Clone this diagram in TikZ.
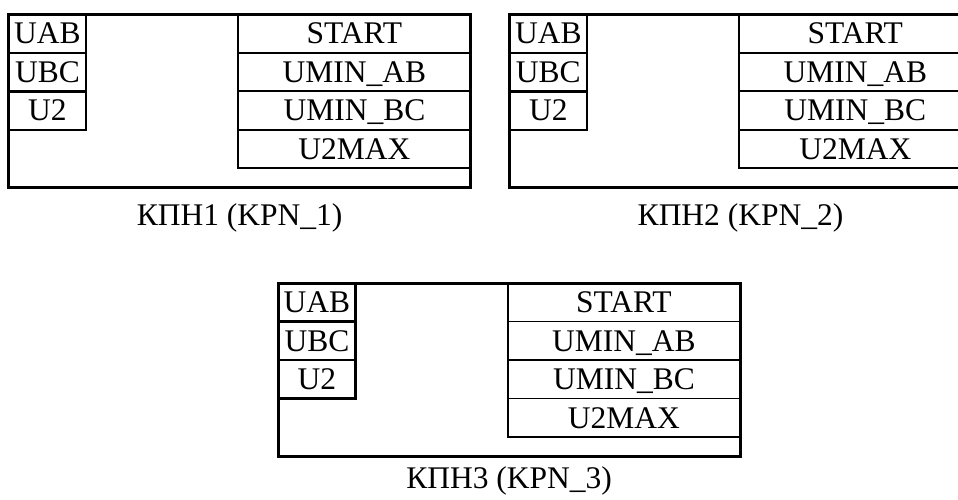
\documentclass[tikz,border=0pt]{standalone}
\usepackage{fontspec}
\setmainfont{Liberation Serif}
\tikzset{
  every node/.style={inner sep=0pt, outer sep=0pt, font=\fontsize{31.5}{31.5}\selectfont},
  outerbox/.style={draw, line width=3pt, minimum width=461.7pt, minimum height=173pt, anchor=north west},
  incell/.style={draw, line width=2.6pt, minimum width=77.2pt, minimum height=38.5pt, anchor=north west, text height=20.8pt, text depth=0pt},
  outcell/.style={draw, line width=1.8pt, minimum width=232.2pt, minimum height=38.5pt, anchor=north west, text height=20.8pt, text depth=0pt},
  caption/.style={anchor=base}
}
\newcommand\kpnblock[5]{%
\begin{scope}[shift={(#2,#3)}]
  \node[incell] (#1uab) at (0,0) {UAB};
  \node[incell] (#1ubc) at (0,38.5) {UBC};
  \node[incell] (#1utwo) at (0,77) {U2};
  \node[outcell] (#1start) at (229.5,0) {START};
  \node[outcell] (#1minab) at (229.5,38.5) {UMIN\_AB};
  \node[outcell] (#1minbc) at (229.5,77) {UMIN\_BC};
  \node[outcell] (#1umax) at (229.5,115.5) {U2MAX};
  \node[outerbox] (#1box) at (0,0) {};
  \node[caption] (#1lbl) at (230.85,#5) {#4};
\end{scope}}
\begin{document}
\begin{tikzpicture}[x=1pt,y=-1pt]
\useasboundingbox (0,0) rectangle (958,499);
\clip (0,0) rectangle (958,499);
\kpnblock{a}{8.8}{14.3}{КПН1 (KPN\_1)}{210.7}
\kpnblock{b}{509.7}{14.3}{КПН2 (KPN\_2)}{210.7}
\kpnblock{c}{278.3}{283}{КПН3 (KPN\_3)}{205}
\end{tikzpicture}
\end{document}
